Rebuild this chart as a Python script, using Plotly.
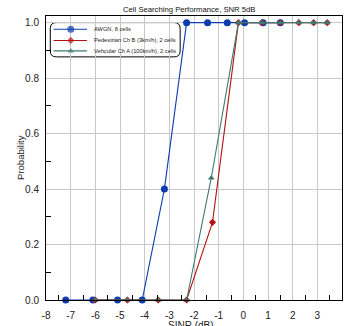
import plotly.graph_objects as go

# ---- data ----
awgn_x = [-7.2, -6.1, -5.1, -4.1, -3.2, -2.3, -1.45, -0.65, 0.05, 0.8, 1.5]
awgn_y = [0, 0, 0, 0, 0.4, 1, 1, 1, 1, 1, 1]
ped_x = [-6.0, -4.7, -3.45, -2.3, -1.25, -0.2, 0.75, 1.5, 2.25, 2.85, 3.4]
ped_y = [0, 0, 0, 0, 0.28, 1, 1, 1, 1, 1, 1]
veh_x = [-6.0, -4.7, -3.45, -2.3, -1.3, -0.2, 0.75, 1.5, 2.25, 2.85, 3.4]
veh_y = [0, 0, 0, 0, 0.44, 1, 1, 1, 1, 1, 1]
names = ["AWGN, 8 cells", "Pedestrian Ch B (3km/h), 2 cells", "Vehcular Ch A (100km/h), 2 cells"]
x_ticks = [-8, -7, -6, -5, -4, -3, -2, -1, 0, 1, 2, 3, 4]
y_ticks = [0.0, 0.2, 0.4, 0.6, 0.8, 1.0]
title = "Cell Searching Performance, SNR 5dB"
x_title = "SINR (dB)"
y_title = "Probability"

BLUE = "#0c3cae"
RED = "#b31212"
TEAL = "#3e7a6f"
REG = "Liberation Sans, Arial, sans-serif"

W, H = 345, 326
L, R, T, B = 45.7, 342.0, 15.7, 300.5
PW, PH = R - L, B - T

def px(xp):
    return (xp - L) / PW

def py(yp):
    return (B - yp) / PH

fig = go.Figure()
series = [
    (awgn_x, awgn_y, BLUE, "circle", 7),
    (ped_x, ped_y, RED, "diamond", 5.5),
    (veh_x, veh_y, TEAL, "triangle-up", 6),
]
for (xs, ys, c, sym, sz), nm in zip(series, names):
    fig.add_trace(go.Scatter(x=xs, y=ys, mode="lines+markers", name=nm,
                             line=dict(color=c, width=1.1),
                             marker=dict(color=c, symbol=sym, size=sz, line=dict(width=0)),
                             cliponaxis=False, showlegend=False))

# manual legend (samples on an overlay axis measured in plot fractions)
legend_rows = [29.0, 40.2, 50.7]
for (xs, ys, c, sym, sz), nm, yp in zip(series, names, legend_rows):
    yy = py(yp)
    fig.add_trace(go.Scatter(x=[px(53.3), px(70.5), px(86.7)], y=[yy, yy, yy],
                             mode="lines+markers", xaxis="x2", yaxis="y2",
                             line=dict(color=c, width=1.1),
                             marker=dict(color=c, symbol=sym, size=[0, sz, 0], line=dict(width=0)),
                             showlegend=False, hoverinfo="skip", cliponaxis=False))
    fig.add_annotation(x=px(91.5), y=yy, xref="paper", yref="paper", text=nm,
                       showarrow=False, xanchor="left", yanchor="middle",
                       font=dict(family=REG, size=5.7, color="#222"))

# rounded legend box
x0, x1, y0, y1 = px(50), px(180), py(56.7), py(22.3)
rx, ry = 6 / PW, 6 / PH
path = (f"M {x0+rx},{y0} L {x1-rx},{y0} Q {x1},{y0} {x1},{y0+ry} "
        f"L {x1},{y1-ry} Q {x1},{y1} {x1-rx},{y1} L {x0+rx},{y1} "
        f"Q {x0},{y1} {x0},{y1-ry} L {x0},{y0+ry} Q {x0},{y0} {x0+rx},{y0} Z")
fig.add_shape(type="path", path=path, xref="paper", yref="paper",
              line=dict(color="black", width=1), fillcolor="white", layer="between")

fig.add_annotation(x=px(188.7), y=py(9.5), xref="paper", yref="paper", text=title,
                   showarrow=False, xanchor="center", yanchor="middle",
                   font=dict(family=REG, size=7.7, color="#111"))
fig.add_annotation(x=px(191), y=py(319), xref="paper", yref="paper", text=x_title,
                   showarrow=False, xanchor="center", yanchor="top",
                   font=dict(family=REG, size=10, color="#222"))
fig.add_annotation(x=px(20.7), y=py(158), xref="paper", yref="paper", text=y_title,
                   showarrow=False, xanchor="center", yanchor="middle", textangle=-90,
                   font=dict(family=REG, size=9.5, color="#222"))

fig.update_layout(
    width=W, height=H,
    margin=dict(l=L, r=W - R, t=T, b=H - B, pad=0),
    paper_bgcolor="white", plot_bgcolor="white",
    showlegend=False,
    xaxis=dict(range=[-8, 4], tickvals=x_ticks, ticktext=[str(v) for v in x_ticks],
               showgrid=True, gridcolor="#c8c8c8", gridwidth=1,
               showline=True, linecolor="black", linewidth=1, mirror=True,
               ticks="", zeroline=False, ticklabelstandoff=6,
               tickfont=dict(family=REG, size=10, color="#222"),
               minor=dict(tickvals=[v + 0.5 for v in x_ticks[:-1]], ticks="inside",
                          ticklen=5, tickcolor="black", tickwidth=1, showgrid=False)),
    yaxis=dict(range=[0, 1.024], tickvals=y_ticks, ticktext=[f"{v:.1f}" for v in y_ticks],
               showgrid=True, gridcolor="#c8c8c8", gridwidth=1,
               showline=True, linecolor="black", linewidth=1, mirror=True,
               ticks="", zeroline=False, ticklabelstandoff=4,
               tickfont=dict(family=REG, size=10, color="#222"),
               minor=dict(tickvals=[0.1, 0.3, 0.5, 0.7, 0.9], ticks="inside",
                          ticklen=5, tickcolor="black", tickwidth=1, showgrid=False)),
    xaxis2=dict(range=[0, 1], overlaying="x", anchor="y2", visible=False, fixedrange=True),
    yaxis2=dict(range=[0, 1], overlaying="y", anchor="x2", visible=False, fixedrange=True),
)

fig.write_html("out.html")
